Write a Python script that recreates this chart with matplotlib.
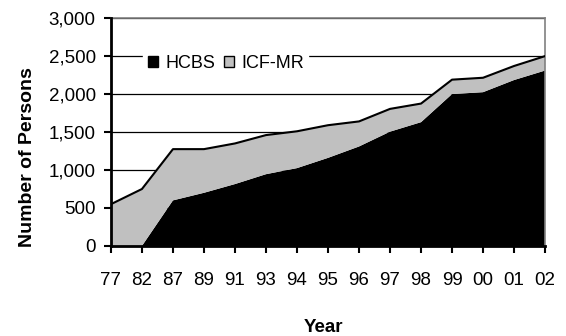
import numpy as np
import matplotlib.pyplot as plt
from matplotlib.patches import Patch

plt.rcParams['font.family'] = ['Liberation Sans', 'DejaVu Sans']

years = ['77', '82', '87', '89', '91', '93', '94', '95', '96', '97', '98', '99', '00', '01', '02']
total = [550, 750, 1275, 1275, 1350, 1460, 1510, 1590, 1640, 1805, 1875, 2190, 2215, 2370, 2500]
hcbs = [0, 0, 600, 700, 815, 945, 1025, 1160, 1310, 1505, 1630, 2000, 2025, 2185, 2310]
icf = list(np.array(total) - np.array(hcbs))

fig = plt.figure(figsize=(5.66, 3.36), dpi=100)
ax = fig.add_axes([0.196, 0.268, 0.767, 0.678])

x = np.arange(len(years))
ax.stackplot(x, hcbs, icf, colors=['black', '#c0c0c0'], zorder=2)
ax.plot(x, total, color='black', lw=1.5, zorder=3)

ax.set_xlim(0, len(years) - 1)
ax.set_ylim(0, 3000)
ax.set_yticks(range(0, 3001, 500))
ax.set_yticklabels([f'{v:,}' for v in range(0, 3001, 500)])
ax.set_xticks(x)
ax.set_xticklabels(years)
ax.yaxis.grid(True, color='black', lw=0.9, zorder=0)
ax.set_axisbelow(True)

for s in ['left', 'bottom']:
    ax.spines[s].set_linewidth(2)
    ax.spines[s].set_color('black')
    ax.spines[s].set_zorder(4)
for s in ['top', 'right']:
    ax.spines[s].set_linewidth(1.2)
    ax.spines[s].set_color('#808080')

ax.tick_params(axis='y', length=5, width=1.5, pad=6, labelsize=13.5)
ax.tick_params(axis='x', length=5, width=1.5, pad=14, labelsize=13.5)

ax.set_ylabel('Number of Persons', fontsize=14, fontweight='bold')
ax.yaxis.set_label_coords(-0.172, 0.388)
ax.set_xlabel('Year', fontsize=13.5, fontweight='bold')
ax.xaxis.set_label_coords(0.49, -0.32)
ax.xaxis.label.set_va('top')

handles = [Patch(facecolor='black', edgecolor='black', label='HCBS'),
           Patch(facecolor='#c0c0c0', edgecolor='black', label='ICF-MR')]
leg = ax.legend(handles=handles, loc='center left', bbox_to_anchor=(0.075, 0.80),
                ncol=2, frameon=True, fancybox=False, edgecolor='white', framealpha=1,
                fontsize=13, handlelength=0.55, handleheight=0.55, handletextpad=0.4,
                columnspacing=0.5, borderpad=0.25, borderaxespad=0)
leg.set_zorder(5)

fig.savefig('out.png', dpi=100)
